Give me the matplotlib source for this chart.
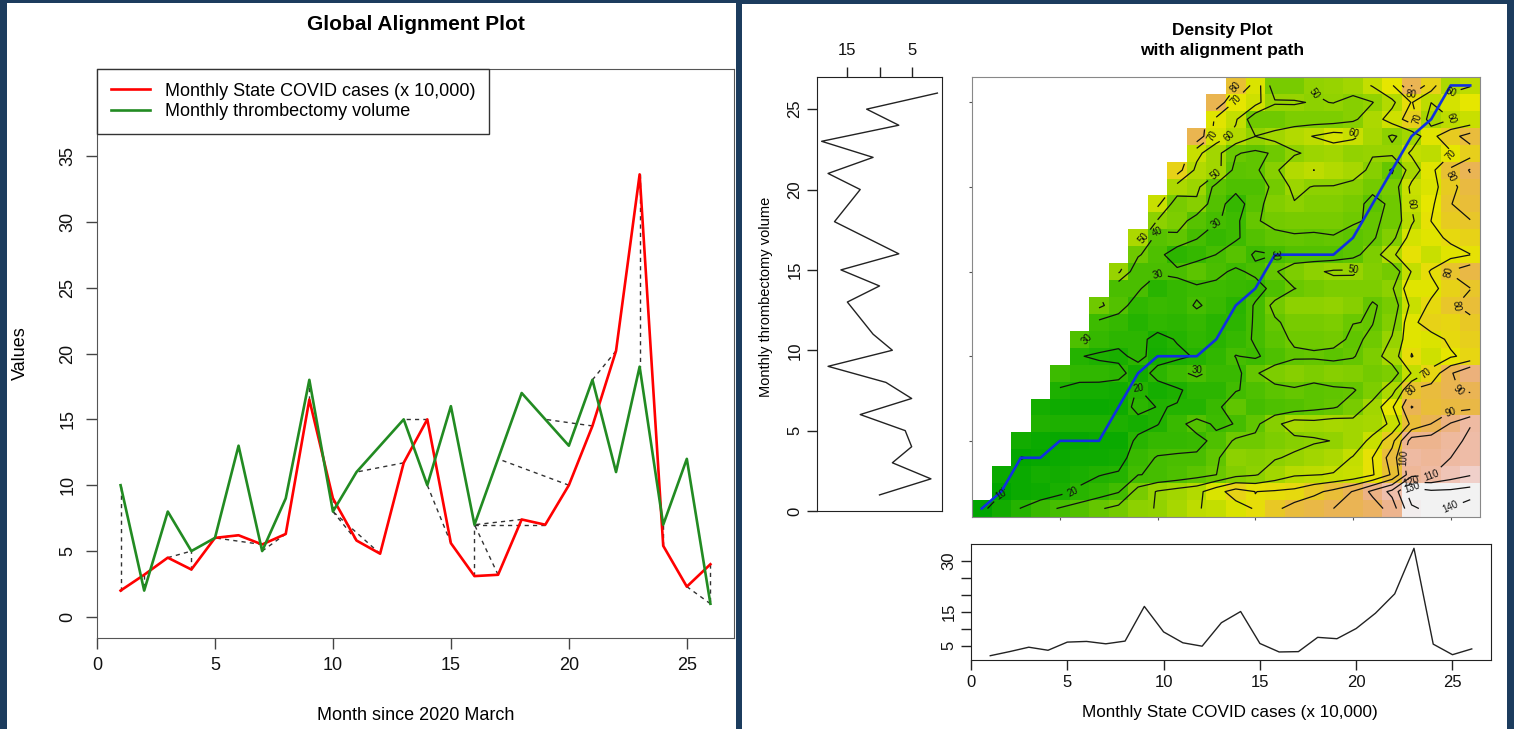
import numpy as np
import matplotlib
matplotlib.use('Agg')
import matplotlib.pyplot as plt
import matplotlib.colors as mcolors
from matplotlib.patches import Rectangle

plt.rcParams['font.family'] = ['Liberation Sans', 'DejaVu Sans']

# values
months = list(range(1, 27))
covid_cases = [2.0, 3.2, 4.5, 3.6, 6.0, 6.2, 5.5, 6.3, 16.5, 9.0, 5.8, 4.8, 11.7,
               15.0, 5.6, 3.1, 3.2, 7.4, 7.0, 10.0, 14.5, 20.2, 33.6, 5.4, 2.3, 4.0]
thrombectomy = [10, 2, 8, 5, 6, 13, 5, 9, 18, 8, 11, 13, 15, 10, 16, 7, 12, 17,
                15, 13, 18, 11, 19, 7, 12, 1]
# alignment path (query = covid index, reference = thrombectomy index)
path_query = list(range(1, 27))
path_ref = [1, 2, 4, 4, 5, 5, 5, 7, 9, 10, 10, 10, 11, 13, 14, 16, 16, 16, 16,
            17, 19, 21, 23, 24, 26, 26]
contour_levels = [10, 20, 30, 40, 50, 60, 70, 80, 90, 100, 110, 120, 130, 140]

W, H = 1514, 729


def box(x0, y0, x1, y1):
    return [x0 / W, 1 - y1 / H, (x1 - x0) / W, (y1 - y0) / H]


def terrain_colors(n):
    # same ramp as R's terrain.colors()
    k = n // 2
    h = np.concatenate([np.linspace(4 / 12, 2 / 12, k), np.linspace(2 / 12, 0, n - k + 1)[1:]])
    s = np.concatenate([np.ones(k), np.linspace(1, 0, n - k + 1)[1:]])
    v = np.concatenate([np.linspace(0.65, 0.9, k), np.linspace(0.9, 0.95, n - k + 1)[1:]])
    cmap = mcolors.ListedColormap(mcolors.hsv_to_rgb(np.stack([h, s, v], axis=1)))
    cmap.set_bad('white')
    return cmap


# cumulative cost matrix, asymmetric step pattern
q = np.array(covid_cases)
r = np.array(thrombectomy, dtype=float)
local = np.abs(q[:, None] - r[None, :])
cost = np.full(local.shape, np.nan)
cost[0, 0] = local[0, 0]
for i in range(1, len(q)):
    for j in range(len(r)):
        prev = [cost[i - 1, j - k] for k in (0, 1, 2) if j - k >= 0 and not np.isnan(cost[i - 1, j - k])]
        if prev:
            cost[i, j] = min(prev) + local[i, j]
cm = np.ma.masked_invalid(cost.T)

fig = plt.figure(figsize=(W / 100, H / 100), dpi=100)
fig.patch.set_facecolor('#1c3c5e')
fig.add_artist(Rectangle((7 / W, 0), 729 / W, 726 / H, transform=fig.transFigure,
                         facecolor='white', edgecolor='none', zorder=-10))
fig.add_artist(Rectangle((742 / W, 0), 765 / W, 725 / H, transform=fig.transFigure,
                         facecolor='white', edgecolor='none', zorder=-10))

# ---- left: global alignment plot
ax = fig.add_axes(box(97, 69, 734, 638))
for qi, rj in zip(path_query, path_ref):
    ax.plot([qi, rj], [covid_cases[qi - 1], thrombectomy[rj - 1]], color='#333333',
            lw=1.0, ls=(0, (3, 3)))
ax.plot(months, covid_cases, color='#ff0000', lw=1.9, label='Monthly State COVID cases (x 10,000)')
ax.plot(months, thrombectomy, color='#228b22', lw=1.9, label='Monthly thrombectomy volume')
ax.set_xlim(0, 27)
ax.set_ylim(-1.6, 41.6)
ax.set_xticks([0, 5, 10, 15, 20, 25])
ax.set_yticks([0, 5, 10, 15, 20, 25, 30, 35])
ax.tick_params(labelsize=13, length=8, width=1, color='#444444', labelcolor='#111111')
ax.tick_params(axis='x', pad=6)
ax.tick_params(axis='y', pad=7)
for t in ax.get_yticklabels():
    t.set_rotation(90)
    t.set_va('center')
for sp in ax.spines.values():
    sp.set_color('#555555')
leg = ax.legend(loc='upper left', bbox_to_anchor=(0, 1), borderaxespad=0, fontsize=13,
                fancybox=False, edgecolor='#333333', framealpha=1, handlelength=2.2,
                handletextpad=0.8, borderpad=0.75, labelspacing=0.2)
leg.get_frame().set_linewidth(1.0)

fig.text(416 / W, 1 - 25 / H, 'Global Alignment Plot', ha='center', va='center',
         fontsize=15, fontweight='bold')
fig.text(20 / W, 1 - 353 / H, 'Values', rotation=90, ha='center', va='center', fontsize=13)
fig.text(416 / W, 1 - 715 / H, 'Month since 2020 March', ha='center', va='center', fontsize=13)

# ---- right: reference series (vertical)
axv = fig.add_axes(box(817, 77, 942, 511))
axv.plot(thrombectomy, months, color='#222222', lw=1.0)
axv.set_xlim(19.72, 0.28)
axv.set_ylim(0, 27)
axv.xaxis.tick_top()
axv.set_xticks([15, 10, 5])
axv.set_xticklabels(['15', '', '5'])
axv.set_yticks([0, 5, 10, 15, 20, 25])
axv.tick_params(labelsize=12, length=7, width=1, color='#222222', labelcolor='#111111')
axv.tick_params(axis='x', pad=7)
for t in axv.get_yticklabels():
    t.set_rotation(90)
    t.set_va('center')
for sp in axv.spines.values():
    sp.set_color('#222222')

# ---- right: density plot
axd = fig.add_axes(box(972, 77, 1480, 517))
xe = np.arange(0.5, len(q) + 1)
ye = np.arange(0.5, len(r) + 1)
axd.pcolormesh(xe, ye, cm, cmap=terrain_colors(100), vmin=cm.min(), vmax=130)
cs = axd.contour(np.arange(1, len(q) + 1), np.arange(1, len(r) + 1), cm,
                 levels=contour_levels, colors='#111111', linewidths=0.9)
axd.clabel(cs, fmt='%d', fontsize=7, inline=True)
axd.plot(path_query, path_ref, color='#1030e0', lw=1.9)
axd.set_xlim(0.5, len(q) + 0.5)
axd.set_ylim(0.5, len(r) + 0.5)
axd.set_xticks([5, 10, 15, 20, 25])
axd.set_yticks([5, 10, 15, 20, 25])
axd.set_xticklabels([])
axd.set_yticklabels([])
axd.tick_params(length=2.5, width=0.8, color='#555555')
for sp in axd.spines.values():
    sp.set_color('#888888')
    sp.set_linewidth(0.8)

fig.text(1222 / W, 1 - 30 / H, 'Density Plot', ha='center', va='center',
         fontsize=12.5, fontweight='bold')
fig.text(1222 / W, 1 - 50 / H, 'with alignment path', ha='center', va='center',
         fontsize=12.5, fontweight='bold')

# ---- right: query series (bottom)
axb = fig.add_axes(box(971, 544, 1491, 660))
axb.plot(months, covid_cases, color='#222222', lw=1.0)
axb.set_xlim(0, 27)
axb.set_ylim(0.736, 34.864)
axb.set_xticks([0, 5, 10, 15, 20, 25])
axb.set_yticks([5, 10, 15, 20, 25, 30])
axb.set_yticklabels(['5', '', '15', '', '', '30'])
axb.tick_params(labelsize=12, length=7, width=1, color='#222222', labelcolor='#111111')
for t in axb.get_yticklabels():
    t.set_rotation(90)
    t.set_va('center')
for sp in axb.spines.values():
    sp.set_color('#222222')

fig.text(766 / W, 1 - 297 / H, 'Monthly thrombectomy volume', rotation=90, ha='center',
         va='center', fontsize=10.5)
fig.text(1230 / W, 1 - 713 / H, 'Monthly State COVID cases (x 10,000)', ha='center',
         va='center', fontsize=12.3)

fig.savefig('out.png', dpi=100, facecolor=fig.get_facecolor())
